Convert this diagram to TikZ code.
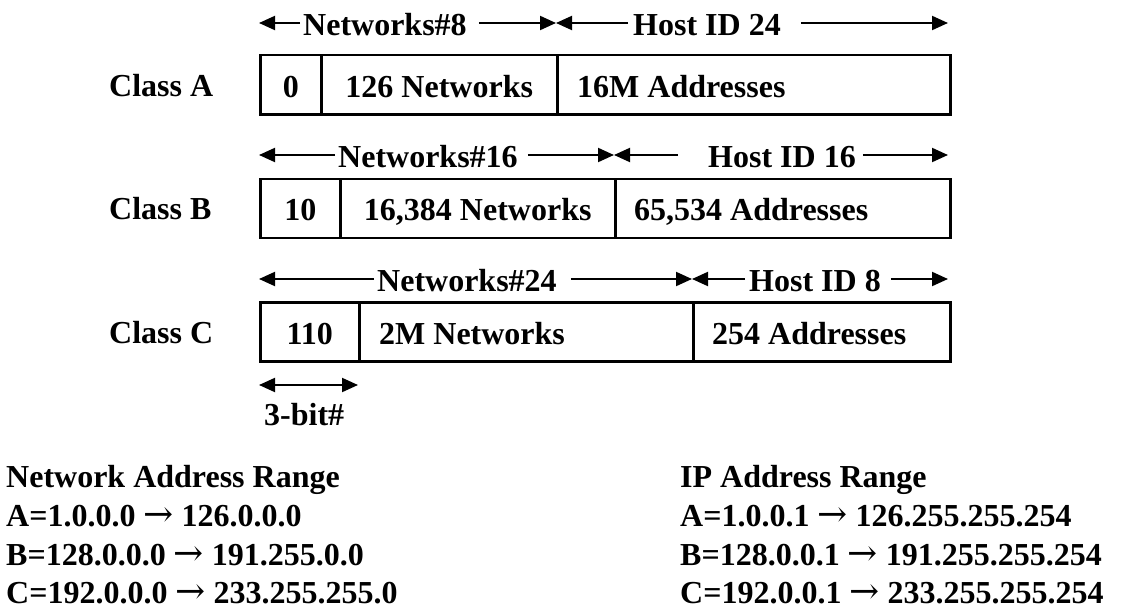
\documentclass[tikz,border=0pt]{standalone}
\usepackage{fontspec}
\setmainfont{Liberation Serif}
\newfontfamily\arrowfont{DejaVu Serif}
\usetikzlibrary{arrows.meta}
\newcommand{\rto}{ {\arrowfont\mdseries\fontsize{36}{38}\selectfont →} }
\begin{document}
\begin{tikzpicture}[x=1pt,y=-1pt,
  font=\fontsize{32}{38}\selectfont\bfseries,
  cell/.style={draw, line width=2.5pt, inner sep=0pt, anchor=north west, minimum height=59pt},
  lab/.style={inner sep=0pt, text height=25pt, text depth=0pt},
  plain/.style={inner sep=0pt, anchor=base west},
  span/.style={line width=2pt, -{Triangle[length=16pt,width=14pt]}},
  bispan/.style={line width=2pt, {Triangle[length=16pt,width=14pt]}-{Triangle[length=16pt,width=14pt]}}
]
\useasboundingbox[fill=white] (0,0) rectangle (1125,610);

% ---------- Class A ----------
\node[lab, anchor=west] (classA) at (109,83.5) {Class A};
\node[cell, minimum width=61pt]  (a0) at (259,54) {};
\node[cell, minimum width=236pt] (a1) at (320,54) {};
\node[cell, minimum width=393pt] (a2) at (556,54) {};
\node[lab] (a0t) at (a0.center) {0};
\node[lab] (a1t) at (a1.center) {126 Networks};
\node[lab, anchor=west] (a2t) at ([xshift=21pt]a2.west) {16M Addresses};

\coordinate (aL) at (259,23);
\coordinate (aM) at (556,23);
\coordinate (aR) at (948,23);
\node[lab, anchor=west] (netA) at (303,23) {Networks\#8};
\node[lab, anchor=west] (hostA) at (633,23) {Host ID 24};
\draw[span] ([xshift=-3pt]netA.west) -- (aL);
\draw[span] ([xshift=12pt]netA.east) -- (aM);
\draw[span] ([xshift=-5pt]hostA.west) -- (aM);
\draw[span] ([xshift=20pt]hostA.east) -- (aR);

% ---------- Class B ----------
\node[lab, anchor=west] (classB) at (109,207) {Class B};
\node[cell, minimum width=80pt]  (b0) at (259,177.5) {};
\node[cell, minimum width=275pt] (b1) at (339,177.5) {};
\node[cell, minimum width=335pt] (b2) at (614,177.5) {};
\node[lab] (b0t) at (b0.center) {10};
\node[lab] (b1t) at (b1.center) {16,384 Networks};
\node[lab, anchor=west] (b2t) at ([xshift=20pt]b2.west) {65,534 Addresses};

\coordinate (bL) at (259,155);
\coordinate (bM) at (614,155);
\coordinate (bR) at (948,155);
\node[lab, anchor=west] (netB) at (338,155) {Networks\#16};
\node[lab, anchor=west] (hostB) at (708,155) {Host ID 16};
\draw[span] ([xshift=-3pt]netB.west) -- (bL);
\draw[span] ([xshift=10pt]netB.east) -- (bM);
\draw[span] ([xshift=-30pt]hostB.west) -- (bM);
\draw[span] ([xshift=7pt]hostB.east) -- (bR);

% ---------- Class C ----------
\node[lab, anchor=west] (classC) at (109,330.5) {Class C};
\node[cell, minimum width=99pt]  (c0) at (259,301) {};
\node[cell, minimum width=334pt] (c1) at (358,301) {};
\node[cell, minimum width=257pt] (c2) at (692,301) {};
\node[lab] (c0t) at (c0.center) {110};
\node[lab, anchor=west] (c1t) at ([xshift=21pt]c1.west) {2M Networks};
\node[lab, anchor=west] (c2t) at ([xshift=20pt]c2.west) {254 Addresses};

\coordinate (cL) at (259,279);
\coordinate (cM) at (692,279);
\coordinate (cR) at (948,279);
\node[lab, anchor=west] (netC) at (377,279) {Networks\#24};
\node[lab, anchor=west] (hostC) at (749,279) {Host ID 8};
\draw[span] ([xshift=-3pt]netC.west) -- (cL);
\draw[span] ([xshift=14pt]netC.east) -- (cM);
\draw[span] ([xshift=-4pt]hostC.west) -- (cM);
\draw[span] ([xshift=10pt]hostC.east) -- (cR);

% prefix width marker
\coordinate (bitL) at (259,385);
\coordinate (bitR) at (358,385);
\draw[bispan] (bitL) -- (bitR);
\node[lab, anchor=west] (bits) at (264,412.5) {3-bit\#};

% ---------- address ranges ----------
\node[plain] (nh) at (6,487) {Network Address Range};
\node[plain] (na) at (6,526) {A=1.0.0.0\rto 126.0.0.0};
\node[plain] (nb) at (6,565) {B=128.0.0.0\rto 191.255.0.0};
\node[plain] (nc) at (6,603) {C=192.0.0.0\rto 233.255.255.0};

\node[plain] (ih) at (680,487) {IP Address Range};
\node[plain] (ia) at (680,526) {A=1.0.0.1\rto 126.255.255.254};
\node[plain] (ib) at (680,565) {B=128.0.0.1\rto 191.255.255.254};
\node[plain] (ic) at (680,603) {C=192.0.0.1\rto 233.255.255.254};
\end{tikzpicture}
\end{document}
